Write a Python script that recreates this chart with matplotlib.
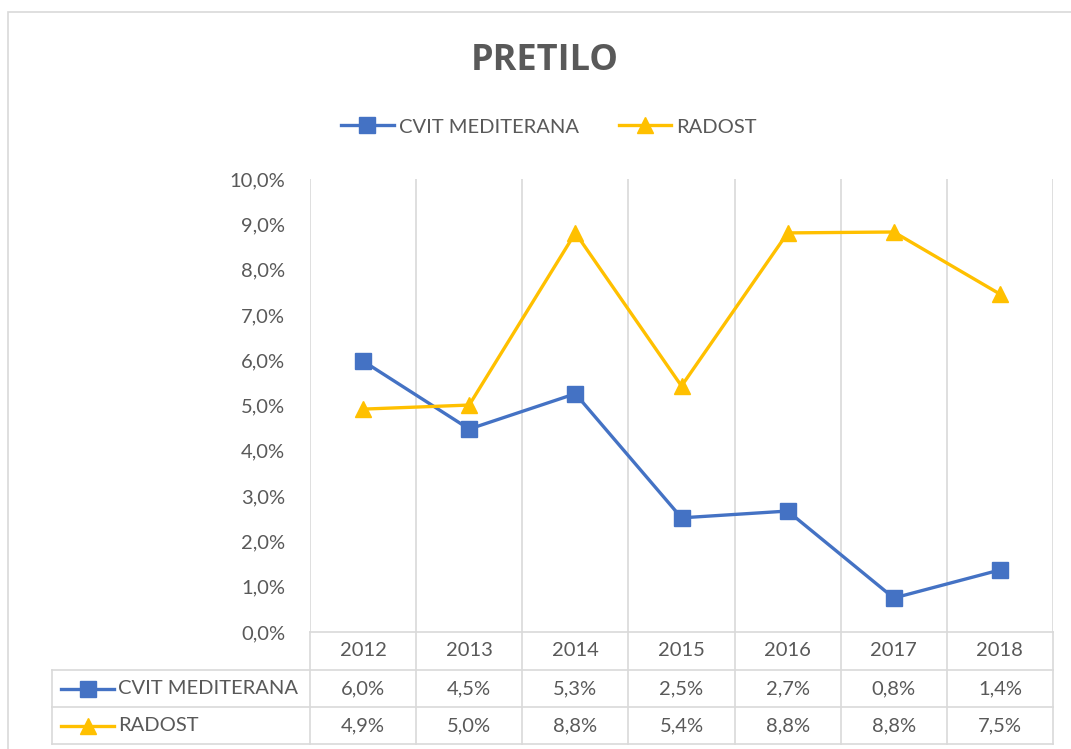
import matplotlib.pyplot as plt
from matplotlib.lines import Line2D
from matplotlib.patches import Rectangle
from matplotlib.ticker import FuncFormatter

plt.rcParams['font.family'] = ['Lato', 'DejaVu Sans']

years = ['2012', '2013', '2014', '2015', '2016', '2017', '2018']
cvit = [5.98, 4.48, 5.26, 2.52, 2.67, 0.75, 1.37]
radost = [4.92, 5.01, 8.81, 5.43, 8.81, 8.83, 7.46]
series_names = ['CVIT MEDITERANA', 'RADOST']

BLUE = '#4472C4'
GOLD = '#FFC000'
GRID = '#D9D9D9'
TXT = '#595959'
FS = 14.5

W, H = 1071, 749
fig = plt.figure(figsize=(W / 100, H / 100), dpi=100)

# outer chart border (only top/left visible in the crop)
fig.patches.append(Rectangle((8 / W, -0.1), 1.2, (H - 12) / H + 0.1, transform=fig.transFigure,
                             fill=False, edgecolor=GRID, linewidth=1.2))

def px_axes(x0, y0, x1, y1):
    return fig.add_axes([x0 / W, 1 - y1 / H, (x1 - x0) / W, (y1 - y0) / H])

# plot area
ax = px_axes(310, 179, 1053, 632)
x = list(range(len(years)))
ax.plot(x, cvit, color=BLUE, lw=2.4, marker='s', ms=11.5, zorder=3)
ax.plot(x, radost, color=GOLD, lw=2.4, marker='^', ms=11.5, zorder=3)
ax.set_xlim(-0.5, len(years) - 0.5)
ax.set_ylim(0, 10)
ax.set_yticks(range(0, 11))
ax.yaxis.set_major_formatter(FuncFormatter(lambda v, p: f"{v:.1f}%".replace('.', ',')))
ax.tick_params(axis='y', length=0, pad=18, labelsize=FS, labelcolor=TXT)
ax.set_xticks([])
for s in ax.spines.values():
    s.set_visible(False)
for i in range(len(years) + 1):
    ax.axvline(i - 0.5, color=GRID, lw=1.2, zorder=1)

# data table
tab = px_axes(52, 632, 1053, 744)
tab.set_xlim(52, 1053)
tab.set_ylim(744, 632)
tab.axis('off')
col_x = [310 + i * (1053 - 310) / len(years) for i in range(len(years) + 1)]
rows = [632, 670, 707, 744]
lk = dict(color=GRID, lw=1.2, clip_on=False)
tab.plot([310, 1053], [632, 632], **lk)
tab.plot([52, 1053], [670, 670], **lk)
tab.plot([52, 1053], [707, 707], **lk)
tab.plot([52, 1053], [744, 744], **lk)
tab.plot([52, 52], [670, 744], **lk)
for cx in col_x:
    tab.plot([cx, cx], [632, 744], **lk)

for i, yr in enumerate(years):
    cx = (col_x[i] + col_x[i + 1]) / 2
    tab.text(cx, (rows[0] + rows[1]) / 2, yr, ha='center', va='center', fontsize=FS, color=TXT)
    for r, vals in enumerate([cvit, radost]):
        tab.text(cx, (rows[r + 1] + rows[r + 2]) / 2, f"{vals[i]:.1f}%".replace('.', ','),
                 ha='center', va='center', fontsize=FS, color=TXT)

markers = ['s', '^']
colors = [BLUE, GOLD]
for r, name in enumerate(series_names):
    cy = (rows[r + 1] + rows[r + 2]) / 2
    tab.plot([61, 114], [cy, cy], color=colors[r], lw=2.4, clip_on=False)
    tab.plot([87.5], [cy], marker=markers[r], color=colors[r], ms=11.5, clip_on=False)
    tab.text(118, cy, name, ha='left', va='center', fontsize=FS, color=TXT)

# title and legend
fig.text(545 / W, 1 - 61 / H, 'PRETILO', ha='center', va='center', fontsize=26,
         fontweight='bold', color=TXT, family=['Open Sans', 'DejaVu Sans'])
handles = [Line2D([], [], color=BLUE, lw=2.4, marker='s', ms=11.5),
           Line2D([], [], color=GOLD, lw=2.4, marker='^', ms=11.5)]
fig.legend(handles, series_names, loc='center', bbox_to_anchor=(549 / W, 1 - 127 / H),
           ncol=2, frameon=False, fontsize=FS, labelcolor=TXT, handlelength=2.6,
           handletextpad=0.25, columnspacing=2.0)

fig.savefig('out.png', dpi=100)
